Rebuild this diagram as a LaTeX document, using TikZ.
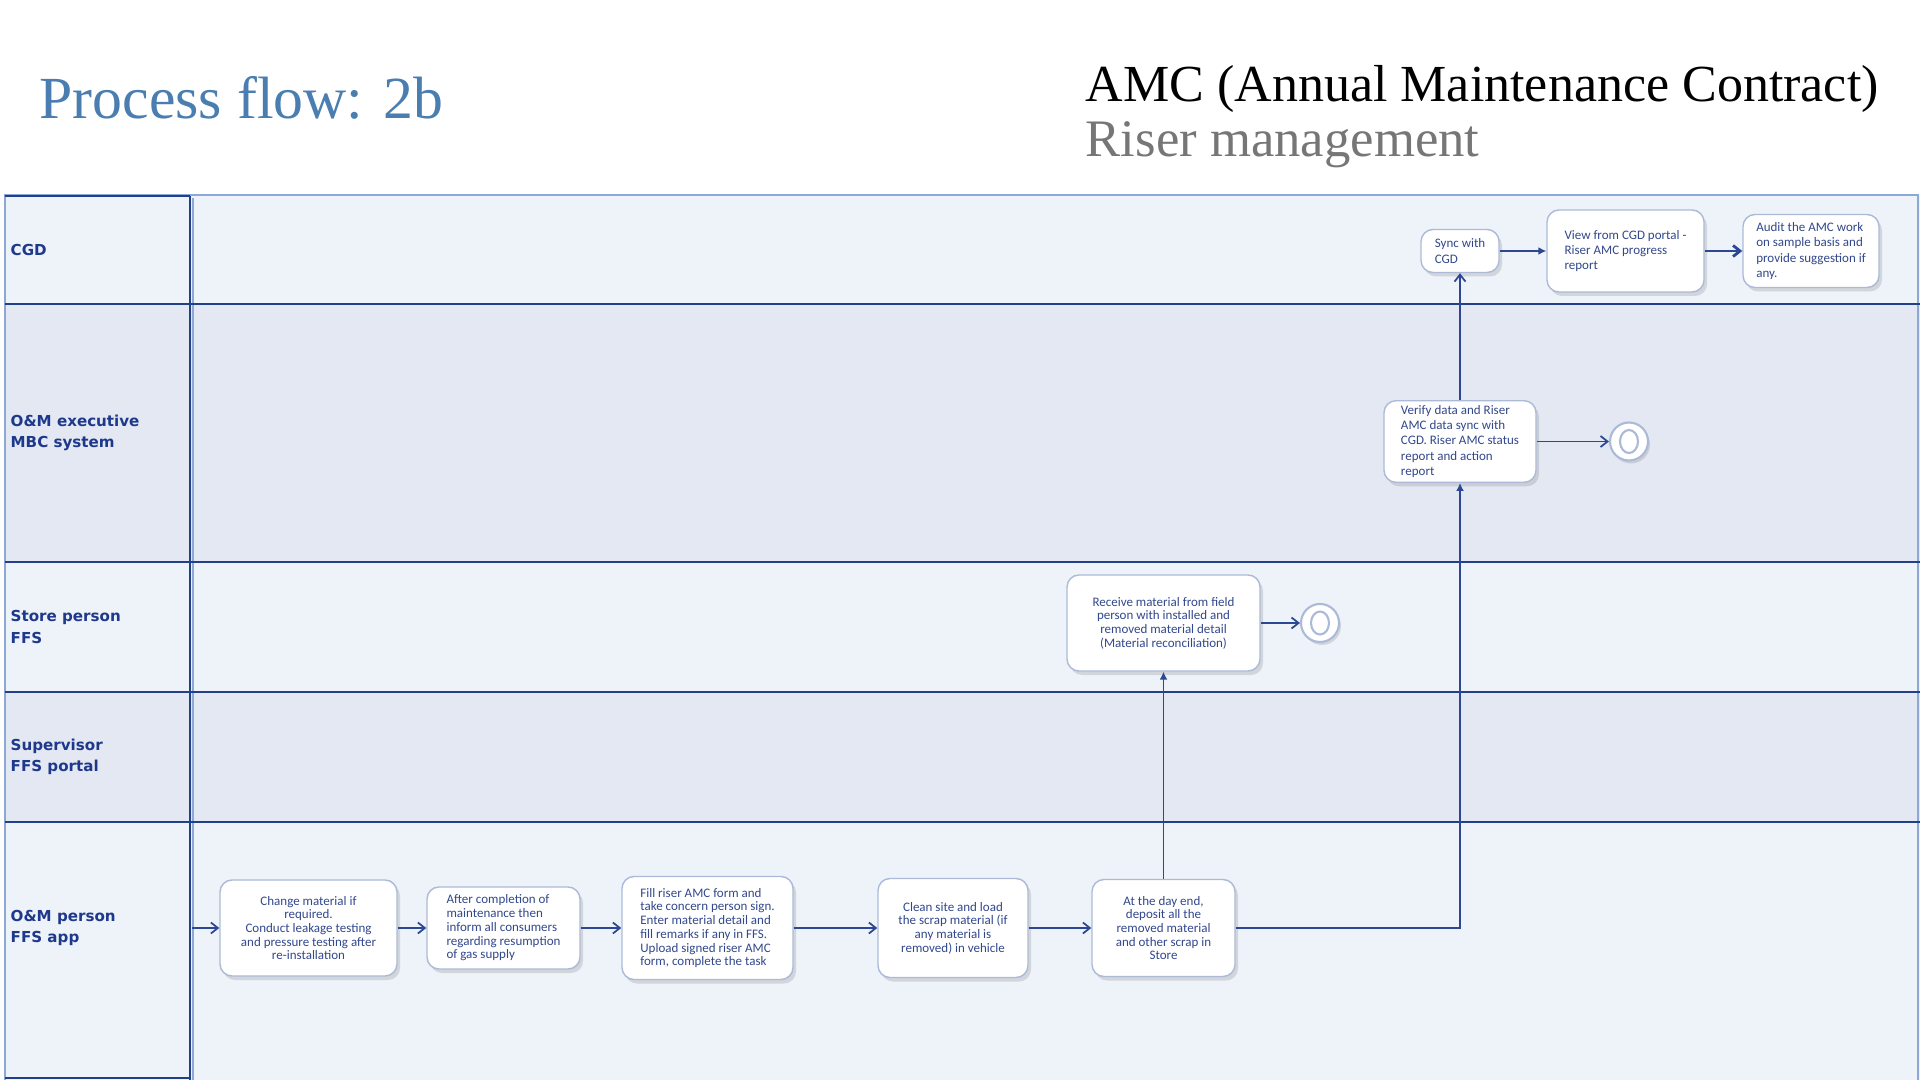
\documentclass[tikz,border=0pt]{standalone}
\usepackage{fontspec}
\setmainfont{Liberation Serif}
\newfontfamily\boxfont{Carlito}
\newfontfamily\lanefont{DejaVu Sans}
\usetikzlibrary{arrows.meta,shadows}

\definecolor{titleblue}{RGB}{74,126,176}
\definecolor{subgray}{RGB}{118,118,118}
\definecolor{lanedark}{RGB}{34,64,138}
\definecolor{laneedge}{RGB}{140,168,212}
\definecolor{lanelight}{RGB}{238,242,249}
\definecolor{lanemid}{RGB}{227,232,243}
\definecolor{lanetext}{RGB}{30,56,140}
\definecolor{boxline}{RGB}{172,186,216}
\definecolor{boxtext}{RGB}{50,72,140}
\definecolor{flowline}{RGB}{44,72,148}

\begin{document}
\begin{tikzpicture}[
	lanelabel/.style={anchor=west, align=left, inner sep=0, text=lanetext,
		font=\lanefont\bfseries\fontsize{4.3pt}{6pt}\selectfont},
	task/.style={draw=boxline, fill=white, line width=0.4pt, rounded corners=0.12cm,
		text=boxtext, inner sep=0.05cm, font=\boxfont\fontsize{3.7pt}{3.9pt}\selectfont,
		drop shadow={shadow xshift=0.3mm, shadow yshift=-0.4mm, opacity=0.25, fill=gray}},
	taskL/.style={task, align=left},
	taskC/.style={task, align=center},
	taskU/.style={taskL, font=\boxfont\fontsize{3.7pt}{4.3pt}\selectfont},
	endstate/.style={circle, draw=boxline, fill=white, line width=0.6pt, minimum size=0.38cm, inner sep=0,
		drop shadow={shadow xshift=0.2mm, shadow yshift=-0.3mm, opacity=0.25, fill=gray}},
	flow/.style={draw=flowline, line width=0.5pt, -{Straight Barb[length=0.7mm,width=1.1mm]}},
	flowfill/.style={draw=flowline, line width=0.5pt, -{Latex[length=0.8mm,width=0.8mm]}}
]
	\useasboundingbox (0,0) rectangle (19.2,-10.8);
	\fill [white] (0,0) rectangle (19.2,-10.8);

	% titles
	\node [anchor=base west, inner sep=0, text=titleblue, font=\fontsize{17pt}{20pt}\selectfont] (title) at (0.39,-1.19) {Process flow: 2b};
	\node [anchor=base west, inner sep=0, font=\fontsize{14.8pt}{17pt}\selectfont] (amc) at (10.85,-1.02) {AMC (Annual Maintenance Contract)};
	\node [anchor=base west, inner sep=0, text=subgray, font=\fontsize{15pt}{17pt}\selectfont] (riser) at (10.85,-1.57) {Riser management};

	% lanes
	\foreach \ytop/\ybot/\col in {1.96/3.04/lanelight, 3.04/5.62/lanemid, 5.62/6.92/lanelight, 6.92/8.22/lanemid, 8.22/10.8/lanelight}
		\fill [\col] (0.05,-\ytop) rectangle (19.2,-\ybot);
	\draw [laneedge, line width=0.5pt] (0.05,-10.8) -- (0.05,-1.95) -- (19.18,-1.95) -- (19.18,-10.8);
	\draw [laneedge, line width=0.6pt] (1.93,-1.98) -- (1.93,-10.8);
	\draw [lanedark, line width=0.8pt] (0.05,-1.96) -- (1.9,-1.96) (0.05,-10.78) -- (1.9,-10.78);
	\draw [lanedark, line width=0.6pt] (1.9,-1.96) -- (1.9,-10.8);
	\foreach \y in {3.04,5.62,6.92,8.22}
		\draw [lanedark, line width=0.8pt] (0.05,-\y) -- (19.2,-\y);

	\node [lanelabel] (lcgd) at (0.1,-2.5) {CGD};
	\node [lanelabel] (lexec) at (0.1,-4.33) {O\&M executive\\MBC system};
	\node [lanelabel] (lstore) at (0.1,-6.27) {Store person\\FFS};
	\node [lanelabel] (lsup) at (0.1,-7.57) {Supervisor\\FFS portal};
	\node [lanelabel] (lfield) at (0.1,-9.28) {O\&M person\\FFS app};

	% tasks
	\node [taskU, minimum width=0.78cm, minimum height=0.43cm] (sync) at (14.6,-2.51) {Sync with\\CGD};
	\node [taskU, minimum width=1.57cm, minimum height=0.82cm] (view) at (16.255,-2.51) {View from CGD portal -\\Riser AMC progress\\report};
	\node [taskU, minimum width=1.36cm, minimum height=0.73cm] (audit) at (18.11,-2.51) {Audit the AMC work\\on sample basis and\\provide suggestion if\\any.};
	\node [taskU, minimum width=1.52cm, minimum height=0.79cm] (verify) at (14.6,-4.415) {Verify data and Riser\\AMC data sync with\\CGD. Riser AMC status\\report and action\\report};
	\node [endstate] (endexec) at (16.29,-4.415) {};
	\node [taskC, minimum width=1.93cm, minimum height=0.96cm] (receive) at (11.635,-6.23) {Receive material from field\\person with installed and\\removed material detail\\(Material reconciliation)};
	\node [endstate] (endstore) at (13.2,-6.23) {};
	\node [taskC, minimum width=1.77cm, minimum height=0.96cm] (change) at (3.085,-9.28) {Change material if\\required.\\Conduct leakage testing\\and pressure testing after\\re-installation};
	\node [taskL, minimum width=1.53cm, minimum height=0.82cm] (inform) at (5.035,-9.28) {After completion of\\maintenance then\\inform all consumers\\regarding resumption\\of gas supply};
	\node [taskL, minimum width=1.71cm, minimum height=1.03cm] (fill) at (7.075,-9.28) {Fill riser AMC form and\\take concern person sign.\\Enter material detail and\\fill remarks if any in FFS.\\Upload signed riser AMC\\form, complete the task};
	\node [taskC, minimum width=1.5cm, minimum height=0.99cm] (clean) at (9.53,-9.28) {Clean site and load\\the scrap material (if\\any material is\\removed) in vehicle};
	\node [taskC, minimum width=1.43cm, minimum height=0.97cm] (deposit) at (11.635,-9.28) {At the day end,\\deposit all the\\removed material\\and other scrap in\\Store};
	\draw [boxline, line width=0.6pt] (endexec) ellipse (0.09 and 0.115) (endstore) ellipse (0.09 and 0.115);

	% flows
	\coordinate (start) at (1.92,-9.28);
	\draw [flow] (start) -- (change);
	\draw [flow] (change) -- (inform);
	\draw [flow] (inform) -- (fill);
	\draw [flow] (fill) -- (clean);
	\draw [flow] (clean) -- (deposit);
	\draw [flowfill] (deposit) -- (receive);
	\draw [flowfill] (deposit.east) -| (verify.south);
	\draw [flow] (receive) -- (endstore);
	\draw [flow] (verify) -- (endexec);
	\draw [flow] (verify) -- (sync);
	\draw [flowfill, line width=0.8pt] (sync) -- (view);
	\draw [flow, line width=0.8pt] (view) -- (audit);
\end{tikzpicture}
\end{document}
